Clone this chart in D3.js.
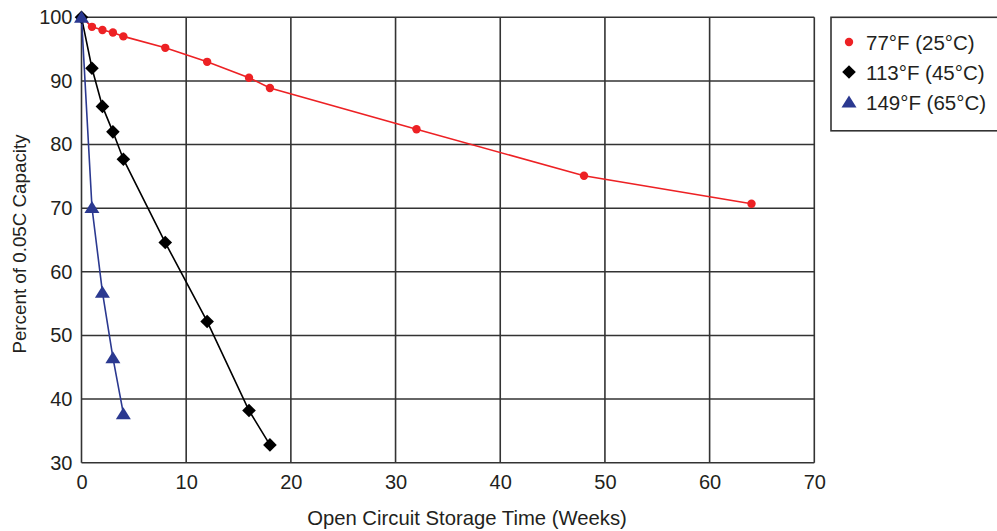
<!DOCTYPE html>
<html>
<head>
<meta charset="utf-8">
<script src="https://cdn.jsdelivr.net/npm/d3@7"></script>
<style>
  html, body { margin: 0; padding: 0; background: #fff; }
  svg { display: block; font-family: "Liberation Sans", Arial, sans-serif; }
</style>
</head>
<body>
<svg id="chart" width="997" height="531"></svg>
<script>
// ---- Data ----
const weeks25 = [0, 1, 2, 3, 4, 8, 12, 16, 18, 32, 48, 64];
const cap25   = [100, 98.5, 98.0, 97.6, 97.0, 95.2, 93.0, 90.5, 88.9, 82.4, 75.1, 70.7];
const weeks45 = [0, 1, 2, 3, 4, 8, 12, 16, 18];
const cap45   = [100, 92.0, 86.0, 82.0, 77.7, 64.6, 52.2, 38.2, 32.8];
const weeks65 = [0, 1, 2, 3, 4];
const cap65   = [100, 70.1, 56.8, 46.5, 37.7];
const seriesNames = ["77°F (25°C)", "113°F (45°C)", "149°F (65°C)"];
const xTicks = [0, 10, 20, 30, 40, 50, 60, 70];
const yTicks = [30, 40, 50, 60, 70, 80, 90, 100];
const xTitle = "Open Circuit Storage Time (Weeks)";
const yTitle = "Percent of 0.05C Capacity";

const series = [
  { name: seriesNames[0], xs: weeks25, ys: cap25, color: "#ed2124", marker: "circle" },
  { name: seriesNames[1], xs: weeks45, ys: cap45, color: "#000000", marker: "diamond" },
  { name: seriesNames[2], xs: weeks65, ys: cap65, color: "#2b3990", marker: "triangle" }
];

const svg = d3.select("#chart");
const pLeft = 81.5, pRight = 814.3, pTop = 17.3, pBottom = 462.7;
const x = d3.scaleLinear().domain([0, 70]).range([pLeft, pRight]);
const y = d3.scaleLinear().domain([30, 100]).range([pBottom, pTop]);
const gridColor = "#333";
const fontSize = 20;

// grid
const g = svg.append("g");
g.selectAll(".vgrid").data(xTicks).enter().append("line")
  .attr("x1", d => x(d)).attr("x2", d => x(d))
  .attr("y1", pTop).attr("y2", pBottom)
  .attr("stroke", gridColor).attr("stroke-width", 1.6);
g.selectAll(".hgrid").data(yTicks).enter().append("line")
  .attr("x1", pLeft).attr("x2", pRight)
  .attr("y1", d => y(d)).attr("y2", d => y(d))
  .attr("stroke", gridColor).attr("stroke-width", 1.6);

// axes labels via d3 axes
const xAxis = svg.append("g").attr("transform", `translate(0,${pBottom})`)
  .call(d3.axisBottom(x).tickValues(xTicks).tickSize(0).tickPadding(12));
xAxis.select(".domain").remove();
xAxis.selectAll("text").attr("font-size", fontSize).attr("fill", "#231f20")
  .attr("font-family", "Liberation Sans, Arial, sans-serif");

const yAxis = svg.append("g").attr("transform", `translate(${pLeft},0)`)
  .call(d3.axisLeft(y).tickValues(yTicks).tickSize(0).tickPadding(9));
yAxis.select(".domain").remove();
yAxis.selectAll("text").attr("font-size", fontSize).attr("fill", "#231f20")
  .attr("font-family", "Liberation Sans, Arial, sans-serif");

// titles
svg.append("text").attr("x", 467).attr("y", 525).attr("text-anchor", "middle")
  .attr("font-size", 20.3).attr("fill", "#231f20").text(xTitle);
svg.append("text").attr("transform", "translate(26,244) rotate(-90)")
  .attr("text-anchor", "middle").attr("font-size", 18.8).attr("fill", "#231f20").text(yTitle);

// marker drawer
function drawMarker(sel, type, color) {
  if (type === "circle") {
    sel.append("circle").attr("r", 4.2).attr("fill", color);
  } else if (type === "diamond") {
    sel.append("path").attr("d", "M0,-6.8L6.8,0L0,6.8L-6.8,0Z").attr("fill", color);
  } else {
    sel.append("path").attr("d", "M0,-6.5L7.5,5.5L-7.5,5.5Z").attr("fill", color);
  }
}

const line = d3.line().x(d => x(d[0])).y(d => y(d[1]));
series.forEach(s => {
  const pts = s.xs.map((v, i) => [v, s.ys[i]]);
  svg.append("path").datum(pts).attr("d", line)
    .attr("fill", "none").attr("stroke", s.color).attr("stroke-width", 1.6);
});
series.forEach(s => {
  const pts = s.xs.map((v, i) => [v, s.ys[i]]);
  svg.append("g").selectAll("g").data(pts).enter().append("g")
    .attr("transform", d => `translate(${x(d[0])},${y(d[1])})`)
    .each(function() { drawMarker(d3.select(this), s.marker, s.color); });
});

// legend
const lg = svg.append("g");
lg.append("rect").attr("x", 831).attr("y", 17.3).attr("width", 180).attr("height", 113.5)
  .attr("fill", "#fff").attr("stroke", gridColor).attr("stroke-width", 1.6);
const legendY = [42, 72, 102];
series.forEach((s, i) => {
  const item = lg.append("g").attr("transform", `translate(849,${legendY[i]})`);
  drawMarker(item, s.marker, s.color);
  lg.append("text").attr("x", 866).attr("y", legendY[i] + 7.5)
    .attr("font-size", 20.5).attr("fill", "#231f20").text(s.name);
});
</script>
</body>
</html>
